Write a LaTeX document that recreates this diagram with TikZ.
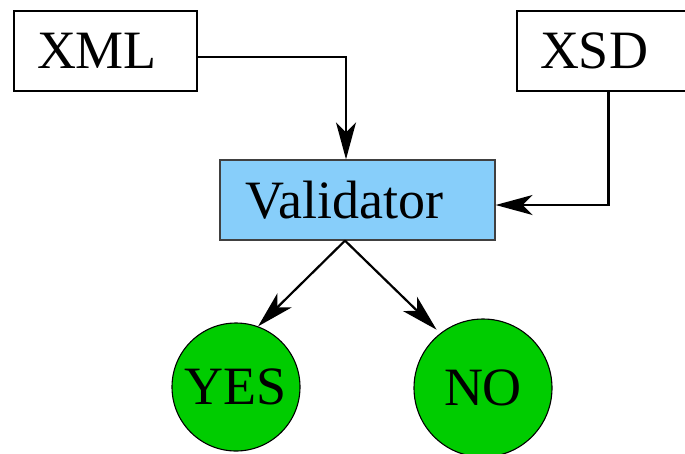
\documentclass[tikz,border=0pt]{standalone}
\usepackage{fontspec}
\setmainfont{Liberation Serif}
\newfontfamily\labelfont{Liberation Serif}
\usetikzlibrary{arrows.meta}
\definecolor{valblue}{RGB}{135,206,250}
\definecolor{okgreen}{RGB}{0,204,0}
\begin{document}
\begin{tikzpicture}[x=1pt,y=-1pt,
  bigtext/.style={font=\labelfont\fontsize{54}{60}\selectfont},
  filebox/.style={draw, line width=1.3pt, rectangle, minimum height=80pt,
    inner xsep=23pt, inner ysep=0pt, text width=137pt, align=left, bigtext},
  valbox/.style={draw=black!75, line width=1.3pt, fill=valblue, rectangle,
    minimum height=80pt, inner xsep=25pt, inner ysep=0pt, text width=225pt,
    align=left, bigtext},
  result/.style={circle, draw, fill=okgreen, line width=1.1pt, inner sep=0pt, bigtext},
  arr/.style={line width=2.2pt, -{Stealth[length=37pt, width=20pt, inset=10pt]}}
]
\useasboundingbox (0,0) rectangle (685,453);
\clip (0,0) rectangle (685,453);

% inputs and validator
\node[filebox] (xml) at (105.5,51) {XML};
\node[filebox] (xsd) at (608.5,51) {XSD};
\node[valbox] (val) at (357.5,200) {Validator};

% outcomes
\node[result, minimum size=128pt] (yes) at (236,387) {YES};
\node[result, minimum size=138pt] (no) at (483,388) {NO};

% connectors
\draw[arr] ([yshift=-6pt]xml.east) -| ([xshift=-11.5pt]val.north);
\draw[arr] (xsd.south) |- ([yshift=-5pt]val.east);
\coordinate (vb) at ([xshift=-12.5pt]val.south);
\draw[arr] (vb) -- (yes.70);
\draw[arr, shorten >=5pt] (vb) -- (no.128);
\end{tikzpicture}
\end{document}
